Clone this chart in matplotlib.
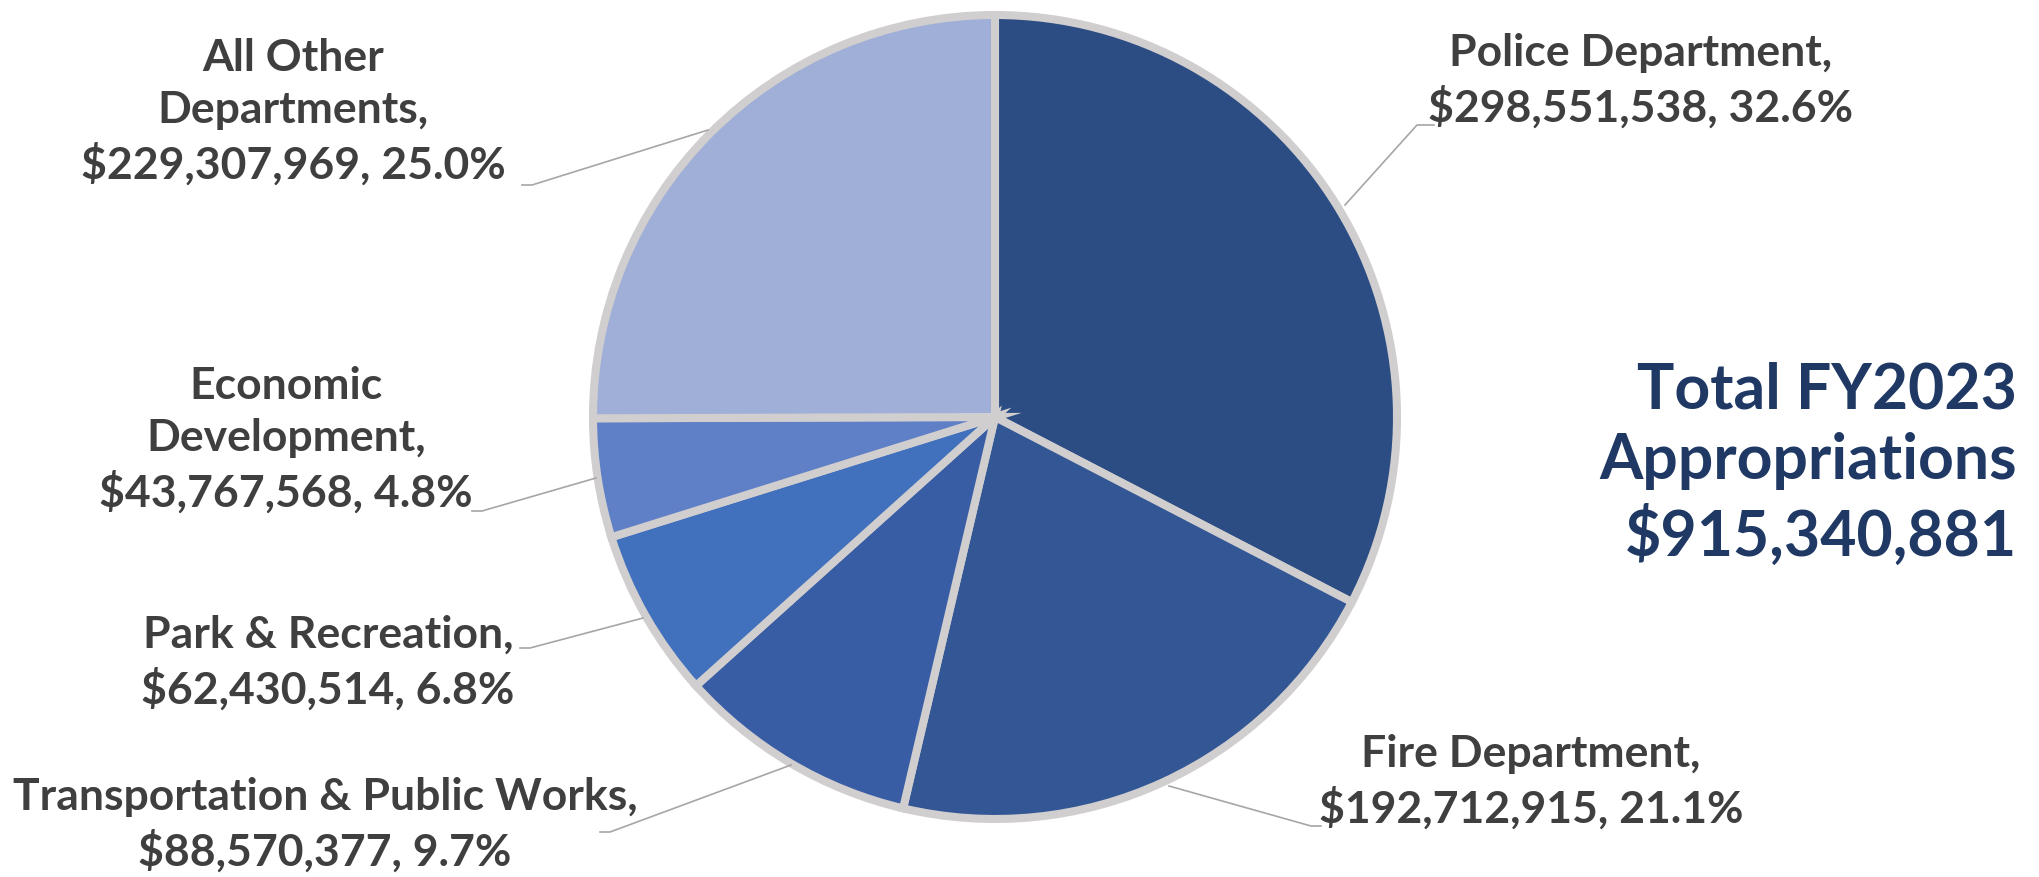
import matplotlib.pyplot as plt

departments = ["Police Department", "Fire Department", "Transportation & Public Works",
               "Park & Recreation", "Economic Development", "All Other Departments"]
amounts = [298551538, 192712915, 88570377, 62430514, 43767568, 229307969]
percents = [32.6, 21.1, 9.7, 6.8, 4.8, 25.0]
colors = ["#2C4D83", "#335794", "#385DA5", "#4170BD", "#5F7FC6", "#A0AFD8"]
total = 915340881
fiscal_year = "FY2023"

W, H = 2039, 877
fig = plt.figure(figsize=(W / 100, H / 100), dpi=100)
ax = fig.add_axes([0, 0, 1, 1])

cx, cy, r = 995, H - 417, 402
ax.pie(amounts, colors=colors, startangle=90, counterclock=False,
       center=(cx, cy), radius=r, frame=True,
       wedgeprops=dict(edgecolor="#D0CECE", linewidth=5.8))
ax.set_xlim(0, W)
ax.set_ylim(0, H)
ax.set_aspect("equal")
ax.axis("off")

fams = ["Lato", "DejaVu Sans"]
label_kw = dict(family=fams, fontweight="bold", fontsize=32, color="#3F3F3F",
                ha="center", va="center", linespacing=1.35)

# label anchor (x, y from top) and leader line points (from top)
anchors = [(1641, 81), (1531, 782), (325, 825), (328, 663), (286, 440), (293, 112)]
leaders = [
    [(1345, 205), (1417, 125), (1434, 125)],
    [(1169, 786), (1311, 826), (1321, 826)],
    [(791, 765), (610, 832), (600, 832)],
    [(643, 618), (530, 648), (520, 648)],
    [(596, 478), (482, 511), (472, 511)],
    [(708, 130), (532, 185), (522, 185)],
]
names = ["Police Department,", "Fire Department,", "Transportation & Public Works,",
         "Park & Recreation,", "Economic\nDevelopment,", "All Other\nDepartments,"]

for name, amt, pct, (tx, ty), pts in zip(names, amounts, percents, anchors, leaders):
    text = "{}\n${:,}, {:.1f}%".format(name, amt, pct)
    ax.text(tx, H - ty, text, **label_kw)
    ax.plot([p[0] for p in pts], [H - p[1] for p in pts], color="#A6A6A6", linewidth=1.2)

ax.text(2017, H - 464, "Total {}\nAppropriations\n${:,}".format(fiscal_year, total),
        family=fams, fontweight="bold", fontsize=45, color="#1F3864",
        ha="right", va="center", linespacing=1.28)

fig.savefig("out.png", dpi=100)
